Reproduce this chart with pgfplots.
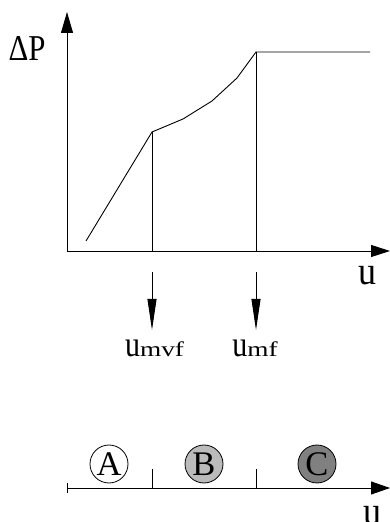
\documentclass[border=0pt]{standalone}
\usepackage{fontspec}
\setmainfont{Liberation Serif}
\usepackage{graphicx}
\usepackage{pgfplots}
\pgfplotsset{compat=1.18}
\usetikzlibrary{arrows.meta}
\definecolor{ballB}{HTML}{BBBBBB}
\definecolor{ballC}{HTML}{808080}

\begin{document}
\begin{tikzpicture}
\begin{axis}[
  scale only axis,
  width=390pt, height=522pt,
  xmin=0, xmax=390, ymin=0, ymax=522,
  hide axis, clip=false, set layers,
  cycle list={{black,solid}},
  every axis plot/.append style={black, line width=0.9pt, no markers},
]
% pressure drop curve
\addplot coordinates {(86,281) (152,390) (183,403) (212,421) (237,444) (256,470) (370,470)};
% drop lines at u_mvf and u_mf
\addplot coordinates {(152,390) (152,271)};
\addplot coordinates {(256,470) (256,271)};
% axes of upper plot
\addplot[black, line width=0.9pt, -{Triangle[length=21pt,width=12pt]}] coordinates {(67,271) (67,510)};
\addplot[black, line width=0.9pt, -{Triangle[length=19pt,width=12pt]}] coordinates {(67,271) (390,271)};
% arrows down to the labels
\addplot[black, line width=0.9pt, -{Triangle[length=31pt,width=9pt]}] coordinates {(152,250) (152,192)};
\addplot[black, line width=0.9pt, -{Triangle[length=31pt,width=9pt]}] coordinates {(256,250) (256,192)};
% lower velocity axis
\addplot[black, line width=0.9pt, -{Triangle[length=19pt,width=13pt]}] coordinates {(67,34) (390,34)};
\addplot coordinates {(67,29) (67,39)};
\addplot coordinates {(152,34) (152,53)};
\addplot coordinates {(256,34) (256,53)};
% regime balls
\addplot[only marks, mark=*, mark size=19, line width=0.8pt, mark options={fill=white, draw=black}] coordinates {(109,58)};
\addplot[only marks, mark=*, mark size=19, line width=0.8pt, mark options={fill=ballB, draw=black}] coordinates {(204,58)};
\addplot[only marks, mark=*, mark size=19, line width=0.8pt, mark options={fill=ballC, draw=black}] coordinates {(317,58)};
\begin{pgfonlayer}{axis foreground}
\node[inner sep=0] at (axis cs:109,58) {\scalebox{1.15}{\fontsize{30}{30}\selectfont A}};
\node[inner sep=0] at (axis cs:204,58) {\scalebox{1.15}{\fontsize{30}{30}\selectfont B}};
\node[inner sep=0] at (axis cs:317,58) {\scalebox{1.15}{\fontsize{30}{30}\selectfont C}};
\end{pgfonlayer}
% labels
\node[inner sep=0] at (axis cs:27,474) {\scalebox{1.1}[1.3]{\fontsize{28}{28}\selectfont ΔP}};
\node[inner sep=0] at (axis cs:367,246) {\scalebox{1}[1.1]{\fontsize{36}{36}\selectfont u}};
\node[inner sep=0] at (axis cs:372,6) {\scalebox{1}[1.1]{\fontsize{36}{36}\selectfont u}};
\node[inner sep=0, anchor=base] at (axis cs:154.5,165) {\scalebox{1}[1.2]{\fontsize{30}{30}\selectfont u}\scalebox{1.3}[1]{\fontsize{21}{21}\selectfont mvf}};
\node[inner sep=0, anchor=base] at (axis cs:255,165) {\scalebox{1}[1.2]{\fontsize{30}{30}\selectfont u}\scalebox{1.3}[1]{\fontsize{21}{21}\selectfont mf}};
\coordinate (ll) at (axis cs:0,0);
\coordinate (ur) at (axis cs:390,522);
\end{axis}
\pgfresetboundingbox
\path[use as bounding box] (ll) rectangle (ur);
\end{tikzpicture}
\end{document}
